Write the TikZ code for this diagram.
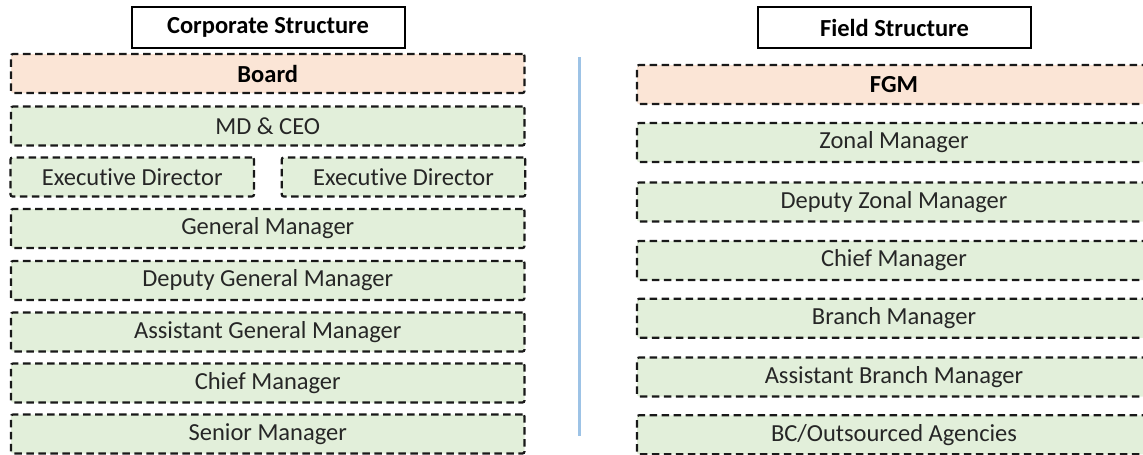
\documentclass[tikz,border=0pt]{standalone}
\usepackage{fontspec}
\setmainfont{Carlito}[Ligatures=NoCommon]
\definecolor{peach}{HTML}{FBE5D6}
\definecolor{leaf}{HTML}{E2EFDA}
\definecolor{divider}{HTML}{9DC3E6}
\definecolor{ink}{HTML}{262626}
\begin{document}
\begin{tikzpicture}[x=1pt,y=-1pt,
  every node/.style={font=\fontsize{24.5}{28}\selectfont, inner sep=0pt, text=ink},
  level/.style={draw=black!90, line width=2.2pt, dash pattern=on 7.5pt off 4.5pt,
    rounded corners=2pt, minimum height=39pt, fill=leaf},
  toplevel/.style={level, fill=peach, font=\fontsize{24.5}{28}\selectfont\bfseries, text=black},
  header/.style={draw=black, line width=2pt, fill=white, minimum width=273pt,
    minimum height=41pt, font=\fontsize{24.5}{28}\selectfont\bfseries, text=black},
  wideleft/.style={minimum width=513.5pt},
  wideright/.style={minimum width=514pt},
  half/.style={minimum width=243.5pt}]
\useasboundingbox (0,0) rectangle (1143,455);
\clip (0,0) rectangle (1143,455);

% Corporate column
\node[header] (corp) at (268,27.5) {Corporate Structure};
\node[toplevel, wideleft] (board) at (267.75,73.5) {Board};
\node[level, wideleft] (md) at (267.75,126) {MD \& CEO};
\node[level, half] (ed1) at (132.25,177) {Executive Director};
\node[level, half] (ed2) at (403.5,177) {Executive Director};
\node[level, wideleft] (gm) at (267.75,228.5) {General Manager};
\node[level, wideleft] (dgm) at (267.75,280.5) {Deputy General Manager};
\node[level, wideleft] (agm) at (267.75,332) {Assistant General Manager};
\node[level, wideleft] (cmc) at (267.75,383) {Chief Manager};
\node[level, wideleft] (sm) at (267.75,434) {Senior Manager};

% Divider between the two columns
\coordinate (divtop) at (579,57);
\coordinate (divbot) at (579,436);
\draw[divider, line width=3pt] (divtop) -- (divbot);

% Field column
\node[header] (field) at (894.5,27.5) {Field Structure};
\node[toplevel, wideright] (fgm) at (894,84.5) {FGM};
\node[level, wideright] (zm) at (894,142.5) {Zonal Manager};
\node[level, wideright] (dzm) at (894,202) {Deputy Zonal Manager};
\node[level, wideright] (cmf) at (894,260.5) {Chief Manager};
\node[level, wideright] (bm) at (894,318.3) {Branch Manager};
\node[level, wideright] (abm) at (894,377) {Assistant Branch Manager};
\node[level, wideright] (bc) at (894,434.8) {BC/Outsourced Agencies};
\end{tikzpicture}
\end{document}
